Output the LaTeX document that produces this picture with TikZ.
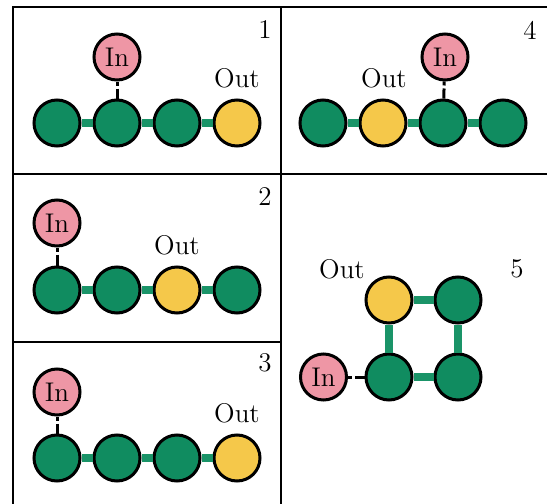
\documentclass[tikz,border=0pt]{standalone}
\usepackage{tikz}
\usetikzlibrary{positioning}
\definecolor{vgreen}{RGB}{16,140,96}
\definecolor{egreen}{RGB}{26,148,104}
\definecolor{vyellow}{RGB}{245,200,74}
\definecolor{vpink}{RGB}{238,150,165}
\begin{document}
\begin{tikzpicture}[x=0.5pt, y=-0.5pt, font=\fontsize{13.5}{16}\selectfont,
  node distance=5.5pt,
  vtx/.style={circle, draw=black, fill=vgreen, line width=1.5pt,
    minimum size=23pt, inner sep=0pt},
  outvtx/.style={vtx, fill=vyellow},
  invtx/.style={vtx, fill=vpink},
  link/.style={draw=egreen, line width=4pt},
  feed/.style={draw=black, line width=1.5pt, dash pattern=on 2pt off 1.5pt on 9pt off 1.5pt},
  frame/.style={line width=1.25pt}]

  \clip (0,0) rectangle (547,504);

  % Panel frames
  \draw[frame] (13,7) rectangle (281,174);
  \draw[frame] (281,7) rectangle (560,174);
  \draw[frame] (13,174) rectangle (281,342);
  \draw[frame] (13,342) rectangle (281,520);
  \draw[frame] (281,174) rectangle (560,520);

  % Panel 1
  \node[vtx] (p1a) at (57,123) {};
  \node[vtx, right=of p1a] (p1b) {};
  \node[vtx, right=of p1b] (p1c) {};
  \node[outvtx, right=of p1c] (p1d) {};
  \node[invtx] (p1in) at (117,57) {In};
  \node (p1out) at (237,78) {Out};
  \node (p1num) at (265,30) {1};
  \draw[link] (p1a) -- (p1b);
  \draw[link] (p1b) -- (p1c);
  \draw[link] (p1c) -- (p1d);
  \draw[feed] (p1in) -- (p1b);

  % Panel 4
  \node[vtx] (p4a) at (323,123) {};
  \node[outvtx, right=of p4a] (p4b) {};
  \node[vtx, right=of p4b] (p4c) {};
  \node[vtx, right=of p4c] (p4d) {};
  \node[invtx] (p4in) at (445,57) {In};
  \node (p4out) at (384,78) {Out};
  \node (p4num) at (530,30) {4};
  \draw[link] (p4a) -- (p4b);
  \draw[link] (p4b) -- (p4c);
  \draw[link] (p4c) -- (p4d);
  \draw[feed] (p4in) -- (p4c);

  % Panel 2
  \node[vtx] (p2a) at (57,290) {};
  \node[vtx, right=of p2a] (p2b) {};
  \node[outvtx, right=of p2b] (p2c) {};
  \node[vtx, right=of p2c] (p2d) {};
  \node[invtx] (p2in) at (57,223) {In};
  \node (p2out) at (177,245) {Out};
  \node (p2num) at (265,197) {2};
  \draw[link] (p2a) -- (p2b);
  \draw[link] (p2b) -- (p2c);
  \draw[link] (p2c) -- (p2d);
  \draw[feed] (p2in) -- (p2a);

  % Panel 3
  \node[vtx] (p3a) at (57,458) {};
  \node[vtx, right=of p3a] (p3b) {};
  \node[vtx, right=of p3b] (p3c) {};
  \node[outvtx, right=of p3c] (p3d) {};
  \node[invtx] (p3in) at (57,392) {In};
  \node (p3out) at (237,413) {Out};
  \node (p3num) at (265,363) {3};
  \draw[link] (p3a) -- (p3b);
  \draw[link] (p3b) -- (p3c);
  \draw[link] (p3c) -- (p3d);
  \draw[feed] (p3in) -- (p3a);

  % Panel 5
  \node[outvtx] (p5a) at (389,300) {};
  \node[vtx] (p5b) at (458,300) {};
  \node[vtx] (p5c) at (389,377) {};
  \node[vtx] (p5d) at (458,377) {};
  \node[invtx] (p5in) at (323.5,377) {In};
  \node (p5out) at (342,269) {Out};
  \node (p5num) at (517,269) {5};
  \draw[link] (p5a) -- (p5b);
  \draw[link] (p5a) -- (p5c);
  \draw[link] (p5b) -- (p5d);
  \draw[link] (p5c) -- (p5d);
  \draw[feed] (p5in) -- (p5c);
\end{tikzpicture}
\end{document}
